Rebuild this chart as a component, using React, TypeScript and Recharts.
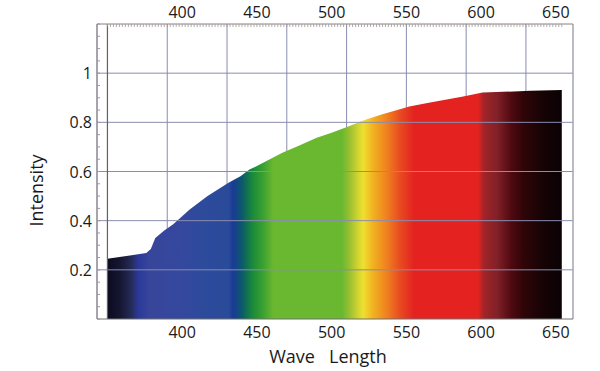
import React from 'react';
import { ComposedChart, Area, XAxis, YAxis, CartesianGrid, ReferenceLine } from 'recharts';

// wavelength (nm) -> relative intensity
const wavelengths = [350, 376, 379, 382, 388, 394, 405, 417, 431, 439, 445, 450, 467, 478, 490, 500, 512, 522, 534, 552, 565, 588, 601, 633, 654];
const intensities = [0.245, 0.268, 0.285, 0.33, 0.36, 0.385, 0.445, 0.5, 0.554, 0.581, 0.608, 0.622, 0.676, 0.705, 0.737, 0.758, 0.785, 0.809, 0.833, 0.864, 0.88, 0.905, 0.921, 0.928, 0.932];

const xLabels = [400, 450, 500, 550, 600, 650];
const gridWl = [350, 390, 430, 470, 510, 550, 590, 630];
const yLabels = [0.2, 0.4, 0.6, 0.8, 1];
const topMinor = Array.from({ length: 153 }, (_, i) => 350 + i * 2);
const yMinor = Array.from({ length: 25 }, (_, i) => +(i * 0.05).toFixed(2));

// spectrum colour stops along the wavelength axis
const stopWl = [350, 358, 365, 369, 371, 378, 400, 411, 431, 434, 440, 447, 454, 461, 507, 512, 521, 528, 537, 546, 555, 598, 602, 611, 620, 628, 642, 654];
const stopColor = ['#0a0a20', '#151530', '#222850', '#2a3580', '#2a3a9a', '#38459a', '#34489e', '#2e4a9c', '#2a4a9a', '#1a3a95', '#0a5a6a', '#1a8a3a', '#3aa030', '#6ab830', '#6ab830', '#9ac030', '#f0e030', '#f0b020', '#f08020', '#e84a20', '#e42320', '#e42320', '#a02428', '#802028', '#500a10', '#300508', '#150305', '#0a0204'];

const spectrum = wavelengths.map((wl, i) => ({ wl, intensity: intensities[i] }));

const X_DOMAIN: [number, number] = [343, 661.5];
const AXIS = '#8a8080';
const GRID = '#8a8cb0';
const TXT = '#1a1a1a';

const BottomTick = ({ x, y, payload }: any) => (
  <text x={x} y={y + 19} textAnchor="middle" fontSize={16} fill={TXT}>{payload.value}</text>
);

const TopTick = ({ x, y, payload }: any) => {
  const v = payload.value;
  return (
    <g>
      <line x1={x} x2={x} y1={y} y2={y + 3} stroke="#a09898" strokeWidth={0.8} />
      {xLabels.includes(v) && (
        <text x={x} y={y - 6} textAnchor="middle" fontSize={16} fill={TXT}>{v}</text>
      )}
    </g>
  );
};

const LeftTick = ({ x, y, payload }: any) => {
  const v = payload.value;
  const isLabel = yLabels.some(l => Math.abs(l - v) < 1e-6);
  return (
    <g>
      <line x1={x} x2={x + 3} y1={y} y2={y} stroke="#a09898" />
      {isLabel && (
        <text x={x - 5} y={y} textAnchor="end" dominantBaseline="central" fontSize={16} fill={TXT}>{String(v)}</text>
      )}
    </g>
  );
};

const RightTick = ({ x, y }: any) => (
  <line x1={x - 3} x2={x} y1={y} y2={y} stroke="#b0b0b0" />
);

export default function App() {
  const span = stopWl[stopWl.length - 1] - stopWl[0];
  return (
    <div style={{ position: 'absolute', left: 0, top: 0, fontFamily: '"Open Sans", sans-serif', background: '#fff' }}>
      <ComposedChart width={600} height={371} data={spectrum} margin={{ top: 0, right: 0, bottom: 0, left: 0 }}>
        <defs>
          <linearGradient id="spec" x1="0" y1="0" x2="1" y2="0">
            {stopWl.map((wl, i) => (
              <stop key={wl} offset={(wl - stopWl[0]) / span} stopColor={stopColor[i]} />
            ))}
          </linearGradient>
        </defs>
        <YAxis
          yAxisId="left"
          type="number"
          domain={[0, 1.2]}
          ticks={yMinor}
          interval={0}
          width={97}
          tickSize={0}
          tickMargin={0}
          tickLine={false}
          tick={LeftTick}
          axisLine={{ stroke: AXIS }}
          label={{
            content: ({ viewBox }: any) => {
              const cx = viewBox.x + 36;
              const cy = viewBox.y + viewBox.height / 2 + 19;
              return (
                <text x={cx} y={cy} transform={`rotate(-90 ${cx} ${cy})`} textAnchor="middle" dominantBaseline="central" fontSize={18} fill={TXT}>
                  Intensity
                </text>
              );
            },
          }}
        />
        <YAxis
          yAxisId="right"
          orientation="right"
          type="number"
          domain={[0, 1.2]}
          ticks={yMinor}
          interval={0}
          width={27}
          tickSize={0}
          tickMargin={0}
          tickLine={false}
          tick={RightTick}
          axisLine={{ stroke: '#b0b0b0' }}
        />
        <XAxis
          xAxisId="bottom"
          orientation="bottom"
          type="number"
          dataKey="wl"
          domain={X_DOMAIN}
          ticks={xLabels}
          height={52}
          tickSize={0}
          tickMargin={0}
          tickLine={false}
          tick={BottomTick}
          axisLine={{ stroke: '#707070' }}
          label={{
            content: ({ viewBox }: any) => (
              <text x={viewBox.x + viewBox.width / 2 - 7} y={viewBox.y + 44} textAnchor="middle" fontSize={18} fill={TXT} style={{ whiteSpace: 'pre' }}>
                {'Wave   Length'}
              </text>
            ),
          }}
        />
        <XAxis
          xAxisId="top"
          orientation="top"
          type="number"
          dataKey="wl"
          domain={X_DOMAIN}
          ticks={topMinor}
          interval={0}
          height={24}
          tickSize={0}
          tickMargin={0}
          tickLine={false}
          tick={TopTick}
          axisLine={{ stroke: AXIS }}
        />
        <XAxis xAxisId="grid" hide height={0} type="number" dataKey="wl" domain={X_DOMAIN} ticks={gridWl} />
        <CartesianGrid xAxisId="grid" yAxisId="left" horizontal={false} stroke={GRID} strokeWidth={1} />
        {yLabels.map(v => (
          <ReferenceLine key={v} xAxisId="bottom" yAxisId="left" y={v} stroke={GRID} strokeWidth={1} />
        ))}
        <ReferenceLine xAxisId="bottom" yAxisId="left" x={350} stroke="#6a6060" strokeWidth={1.2} />
        <Area
          xAxisId="bottom"
          yAxisId="left"
          type="linear"
          dataKey="intensity"
          fill="url(#spec)"
          fillOpacity={1}
          stroke="none"
          isAnimationActive={false}
        />
      </ComposedChart>
    </div>
  );
}
